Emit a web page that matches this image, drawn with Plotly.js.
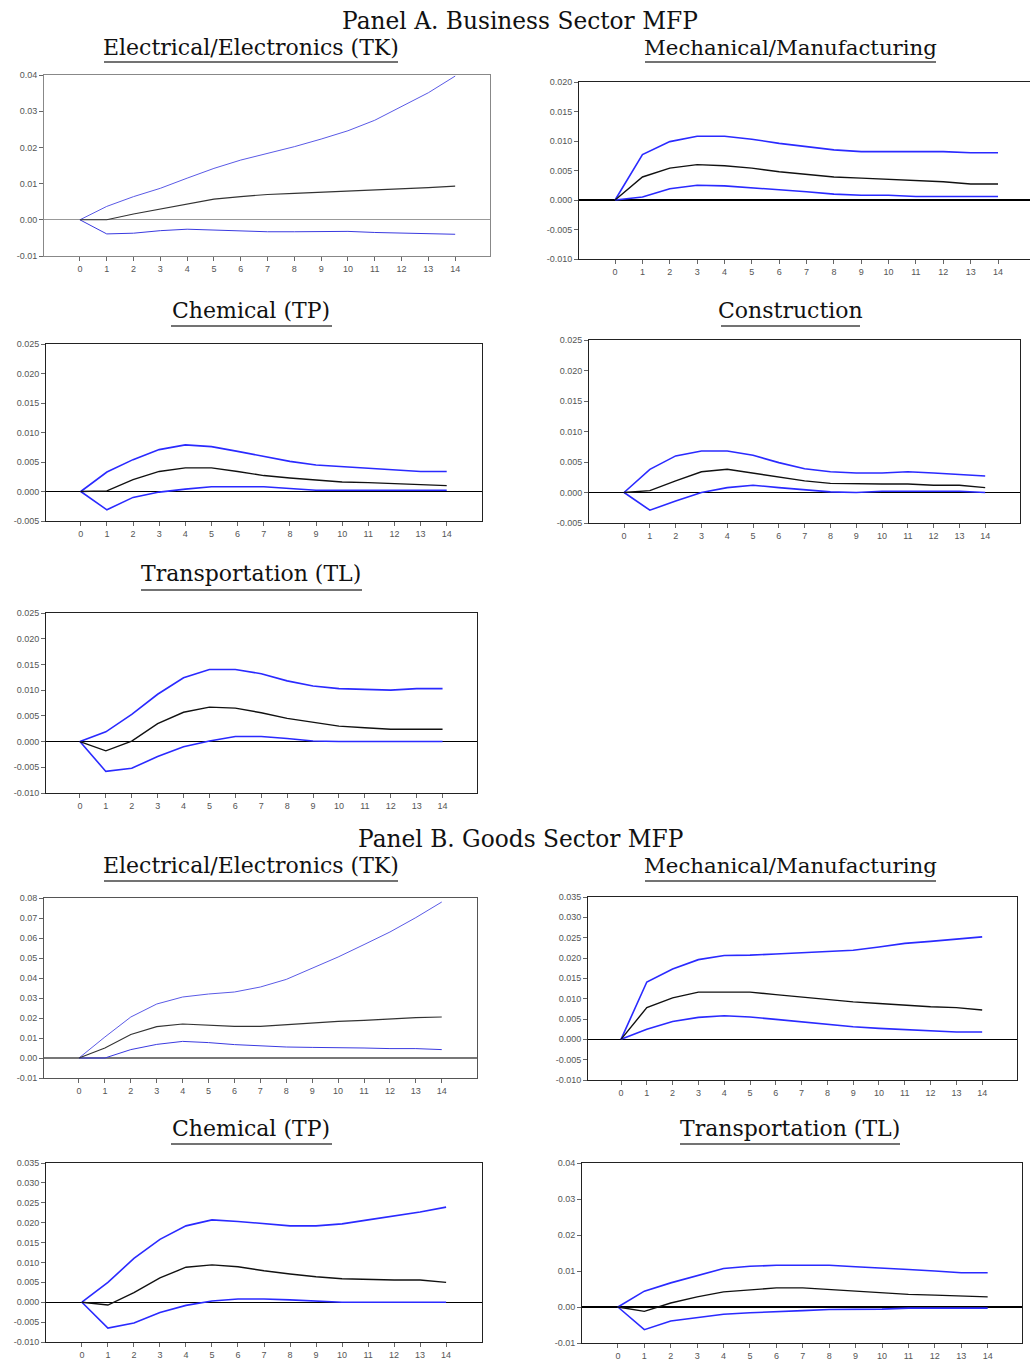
<!DOCTYPE html>
<html>
<head>
<meta charset="utf-8">
<script src="https://cdn.plot.ly/plotly-3.0.1.min.js"></script>
<style>html,body{margin:0;padding:0;background:#fff;}#chart{width:1030px;height:1362px;}</style>
</head>
<body>
<div id="chart"></div>
<script>
// Horizon (periods after shock)
const periods = [0,1,2,3,4,5,6,7,8,9,10,11,12,13,14];

// Panel A. Business Sector MFP
const aTK_upper = [0,0.0037,0.0064,0.0087,0.0115,0.0142,0.0165,0.0183,0.0202,0.0223,0.0246,0.0275,0.0312,0.0351,0.0397];
const aTK_irf   = [0,0,0.0016,0.0030,0.0044,0.0057,0.0064,0.0070,0.0073,0.0076,0.0080,0.0083,0.0085,0.0089,0.0093];
const aTK_lower = [0,-0.0039,-0.0037,-0.0030,-0.0026,-0.0029,-0.0031,-0.0033,-0.0033,-0.0033,-0.0032,-0.0035,-0.0037,-0.0038,-0.0040];

const aMM_upper = [0,0.0077,0.0099,0.0108,0.0108,0.0103,0.0096,0.0090,0.0085,0.0082,0.0082,0.0082,0.0082,0.0080,0.0080];
const aMM_irf   = [0,0.0039,0.0054,0.0060,0.0058,0.0054,0.0048,0.0043,0.0039,0.0037,0.0035,0.0033,0.0031,0.0027,0.0027];
const aMM_lower = [0,0.0005,0.0019,0.0025,0.0024,0.0021,0.0017,0.0014,0.0010,0.0008,0.0008,0.0006,0.0006,0.0006,0.0006];

const aTP_upper = [0,0.0033,0.0054,0.0071,0.0079,0.0076,0.0068,0.0059,0.0051,0.0045,0.0042,0.0040,0.0037,0.0034,0.0034];
const aTP_irf   = [0,0.0001,0.0020,0.0034,0.0040,0.0040,0.0034,0.0027,0.0023,0.0019,0.0016,0.0015,0.0013,0.0012,0.0010];
const aTP_lower = [0,-0.0031,-0.0010,-0.0001,0.0004,0.0008,0.0008,0.0008,0.0005,0.0002,0.0002,0.0002,0.0002,0.0002,0.0002];

const aCN_upper = [0,0.0038,0.0060,0.0068,0.0068,0.0061,0.0049,0.0039,0.0034,0.0032,0.0032,0.0034,0.0032,0.0030,0.0027];
const aCN_irf   = [0,0.0003,0.0019,0.0034,0.0038,0.0032,0.0026,0.0019,0.0015,0.0014,0.0014,0.0014,0.0012,0.0012,0.0008];
const aCN_lower = [0,-0.0029,-0.0014,0,0.0008,0.0012,0.0008,0.0005,0.0001,0,0.0002,0.0002,0.0002,0.0002,0];

const aTL_upper = [0,0.0019,0.0053,0.0092,0.0124,0.0140,0.0140,0.0132,0.0118,0.0108,0.0103,0.0101,0.0100,0.0103,0.0103];
const aTL_irf   = [0,-0.0018,0.0001,0.0035,0.0057,0.0067,0.0065,0.0056,0.0045,0.0037,0.0030,0.0027,0.0024,0.0024,0.0024];
const aTL_lower = [0,-0.0058,-0.0052,-0.0029,-0.0010,0.0001,0.0010,0.0010,0.0006,0.0001,0,0,0,0,0];

// Panel B. Goods Sector MFP
const bTK_upper = [0,0.0105,0.0205,0.0270,0.0305,0.0320,0.0330,0.0355,0.0393,0.0447,0.0505,0.0567,0.0630,0.0702,0.0780];
const bTK_irf   = [0,0.0050,0.0118,0.0157,0.0170,0.0163,0.0158,0.0158,0.0167,0.0175,0.0183,0.0188,0.0195,0.0202,0.0205];
const bTK_lower = [0,0,0.0042,0.0068,0.0083,0.0077,0.0067,0.0060,0.0055,0.0053,0.0053,0.0050,0.0047,0.0047,0.0042];

const bMM_upper = [0,0.0141,0.0173,0.0196,0.0206,0.0207,0.0210,0.0213,0.0216,0.0219,0.0227,0.0236,0.0241,0.0247,0.0252];
const bMM_irf   = [0,0.0078,0.0102,0.0116,0.0116,0.0116,0.0110,0.0104,0.0097,0.0092,0.0088,0.0084,0.0080,0.0078,0.0072];
const bMM_lower = [0,0.0025,0.0044,0.0054,0.0058,0.0055,0.0049,0.0043,0.0036,0.0031,0.0027,0.0024,0.0021,0.0018,0.0018];

const bTP_upper = [0,0.0050,0.0110,0.0158,0.0192,0.0207,0.0203,0.0197,0.0192,0.0192,0.0197,0.0207,0.0217,0.0227,0.0239];
const bTP_irf   = [0,-0.0007,0.0024,0.0061,0.0088,0.0094,0.0089,0.0079,0.0071,0.0064,0.0059,0.0057,0.0056,0.0056,0.0050];
const bTP_lower = [0,-0.0065,-0.0052,-0.0026,-0.0008,0.0003,0.0008,0.0008,0.0006,0.0003,0,0,0,0,0];

const bTL_upper = [0,0.0044,0.0067,0.0088,0.0107,0.0113,0.0116,0.0116,0.0116,0.0112,0.0107,0.0104,0.0100,0.0095,0.0095];
const bTL_irf   = [0,-0.0012,0.0011,0.0028,0.0042,0.0048,0.0053,0.0053,0.0048,0.0045,0.0040,0.0035,0.0033,0.0031,0.0028];
const bTL_lower = [0,-0.0063,-0.0039,-0.0030,-0.0020,-0.0016,-0.0012,-0.0010,-0.0007,-0.0007,-0.0006,-0.0003,-0.0003,-0.0003,-0.0003];

// Y-axis tick values per panel
const ticksA_TK = [-0.01,0.00,0.01,0.02,0.03,0.04];
const ticksA_MM = [-0.010,-0.005,0.000,0.005,0.010,0.015,0.020];
const ticksA_TP = [-0.005,0.000,0.005,0.010,0.015,0.020,0.025];
const ticksA_CN = [-0.005,0.000,0.005,0.010,0.015,0.020,0.025];
const ticksA_TL = [-0.010,-0.005,0.000,0.005,0.010,0.015,0.020,0.025];
const ticksB_TK = [-0.01,0.00,0.01,0.02,0.03,0.04,0.05,0.06,0.07,0.08];
const ticksB_MM = [-0.010,-0.005,0.000,0.005,0.010,0.015,0.020,0.025,0.030,0.035];
const ticksB_TP = [-0.010,-0.005,0.000,0.005,0.010,0.015,0.020,0.025,0.030,0.035];
const ticksB_TL = [-0.01,0.00,0.01,0.02,0.03,0.04];

// Titles
const panelTitles = ["Panel A. Business Sector MFP","Panel B. Goods Sector MFP"];
const subTitles = ["Electrical/Electronics (TK)","Mechanical/Manufacturing","Chemical (TP)","Construction","Transportation (TL)",
                   "Electrical/Electronics (TK)","Mechanical/Manufacturing","Chemical (TP)","Transportation (TL)"];

// ---------- layout geometry (pixels) ----------
const W = 1030, H = 1362;
const panels = [
  {up:aTK_upper, irf:aTK_irf, lo:aTK_lower, ticks:ticksA_TK, dec:2, box:[44,490,75,256],  xr:[-1.34,15.3],  thin:true,  border:'#888', zl:'#999', mirrorY:true},
  {up:aMM_upper, irf:aMM_irf, lo:aMM_lower, ticks:ticksA_MM, dec:3, box:[579,1030,82,259], xr:[-1.32,15.17], thin:false, border:'#222', zl:'#000', mirrorY:false},
  {up:aTP_upper, irf:aTP_irf, lo:aTP_lower, ticks:ticksA_TP, dec:3, box:[46,482,344,521], xr:[-1.33,15.35], thin:false, border:'#222', zl:'#000', mirrorY:true},
  {up:aCN_upper, irf:aCN_irf, lo:aCN_lower, ticks:ticksA_CN, dec:3, box:[589,1020,340,523], xr:[-1.36,15.35], thin:false, border:'#222', zl:'#000', mirrorY:true},
  {up:aTL_upper, irf:aTL_irf, lo:aTL_lower, ticks:ticksA_TL, dec:3, box:[46,477,613,793], xr:[-1.31,15.33], thin:false, border:'#222', zl:'#000', mirrorY:true},
  {up:bTK_upper, irf:bTK_irf, lo:bTK_lower, ticks:ticksB_TK, dec:2, box:[44,477,898,1078], xr:[-1.35,15.36], thin:true,  border:'#555', zl:'#777', mirrorY:true},
  {up:bMM_upper, irf:bMM_irf, lo:bMM_lower, ticks:ticksB_MM, dec:3, box:[588,1017,897,1080], xr:[-1.28,15.35], thin:false, border:'#222', zl:'#000', mirrorY:true},
  {up:bTP_upper, irf:bTP_irf, lo:bTP_lower, ticks:ticksB_TP, dec:3, box:[46,482,1163,1342], xr:[-1.38,15.38], thin:false, border:'#222', zl:'#000', mirrorY:true},
  {up:bTL_upper, irf:bTL_irf, lo:bTL_lower, ticks:ticksB_TL, dec:2, box:[582,1022,1163,1343], xr:[-1.36,15.3],  thin:false, border:'#222', zl:'#000', mirrorY:true}
];

// subtitle centre [x, y] and underline [x0, x1, y] in pixels
const subTitlePos = [[251,47],[790,47],[251,310],[790,310],[251,574],[251,865],[790,865],[251,1128],[790,1128]];
const subTitleSize = [22,21.3,22,22,22,22,21.3,22,22];
const underlines = [[104,398,62],[645,936,62],[171,332,326],[721,860,326],[141,362,590],[104,398,881],[645,936,881],[171,332,1144],[680,900,1144]];
const panelTitlePos = [[520,20],[520,838]];

const traces = [];
const layout = {
  width: W, height: H,
  margin: {l:0, r:0, t:0, b:0},
  paper_bgcolor: '#fff', plot_bgcolor: '#fff',
  showlegend: false,
  annotations: [],
  shapes: [],
  font: {family: 'Liberation Sans, Arial, sans-serif'}
};

panels.forEach((p, i) => {
  const n = i + 1;
  const xa = 'x' + (n === 1 ? '' : n), ya = 'y' + (n === 1 ? '' : n);
  const blue = p.thin ? '#5a5ae6' : '#2a2aff';
  const bw = p.thin ? 1 : 1.6;
  traces.push({x: periods, y: p.up, xaxis: xa, yaxis: ya, mode: 'lines', line: {color: blue, width: bw}, hoverinfo: 'skip'});
  traces.push({x: periods, y: p.lo, xaxis: xa, yaxis: ya, mode: 'lines', line: {color: p.thin ? '#3a3ae0' : '#2a2aff', width: bw}, hoverinfo: 'skip'});
  traces.push({x: periods, y: p.irf, xaxis: xa, yaxis: ya, mode: 'lines', line: {color: p.thin ? '#333' : '#111', width: p.thin ? 1.1 : 1.4}, hoverinfo: 'skip'});
  const [x0, x1, y0, y1] = p.box;
  const yr = [p.ticks[0], p.ticks[p.ticks.length - 1]];
  layout['xaxis' + (n === 1 ? '' : n)] = {
    domain: [x0 / W, Math.min(1, x1 / W)], anchor: ya, range: p.xr,
    tickvals: periods, ticktext: periods.map(String), ticks: 'outside', ticklen: 4, tickcolor: '#666',
    showline: true, linecolor: p.border, linewidth: 1, mirror: true, showgrid: false, zeroline: false,
    tickfont: {family: 'Liberation Sans, Arial, sans-serif', size: 9, color: '#555'}, fixedrange: true
  };
  layout['yaxis' + (n === 1 ? '' : n)] = {
    domain: [1 - y1 / H, 1 - y0 / H], anchor: xa, range: yr,
    tickvals: p.ticks, ticktext: p.ticks.map(v => v.toFixed(p.dec)), ticks: 'outside', ticklen: 4, tickcolor: '#666',
    showline: true, linecolor: p.border, linewidth: 1, mirror: p.mirrorY, showgrid: false,
    zeroline: true, zerolinecolor: p.zl, zerolinewidth: 1.3,
    tickfont: {family: 'Liberation Sans, Arial, sans-serif', size: 9, color: '#555'}, fixedrange: true
  };
});

const serif = 'DejaVu Serif, Liberation Serif, serif';
panelTitles.forEach((t, i) => {
  layout.annotations.push({text: t, xref: 'paper', yref: 'paper', x: panelTitlePos[i][0] / W, y: 1 - panelTitlePos[i][1] / H,
    xanchor: 'center', yanchor: 'middle', showarrow: false, font: {family: serif, size: 23.3, color: '#111'}});
});
subTitles.forEach((t, i) => {
  layout.annotations.push({text: t, xref: 'paper', yref: 'paper', x: subTitlePos[i][0] / W, y: 1 - subTitlePos[i][1] / H,
    xanchor: 'center', yanchor: 'middle', showarrow: false, font: {family: serif, size: subTitleSize[i], color: '#111'}});
  const u = underlines[i];
  layout.shapes.push({type: 'line', xref: 'paper', yref: 'paper', x0: u[0] / W, x1: u[1] / W, y0: 1 - u[2] / H, y1: 1 - u[2] / H,
    line: {color: '#444', width: 1.3}});
});

Plotly.newPlot('chart', traces, layout, {staticPlot: true});
</script>
</body>
</html>
